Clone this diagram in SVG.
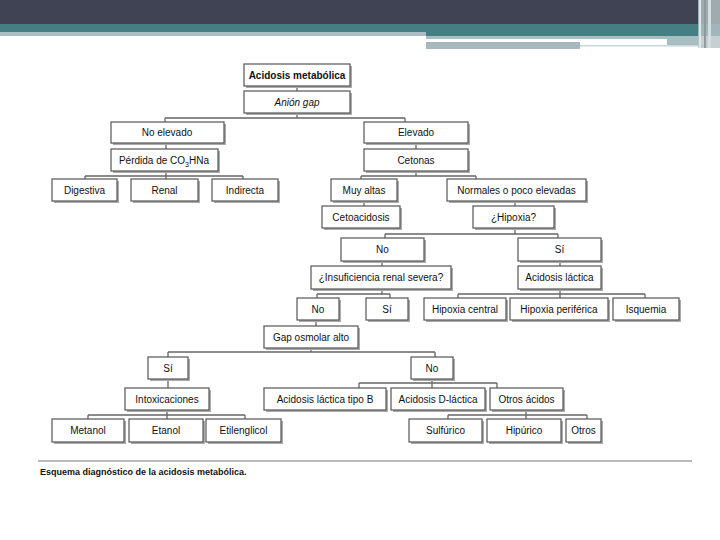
<svg xmlns="http://www.w3.org/2000/svg" width="720" height="540" viewBox="0 0 720 540">
<style>
.b{fill:#fff;stroke:#555;stroke-width:1.2}
.s{fill:#aaa}
.t{font-family:"Liberation Sans",Arial,sans-serif;font-size:10px;fill:#111;text-anchor:middle}
.bold{font-weight:bold}
.c{fill:none;stroke:#666;stroke-width:1.3}
</style>
<rect width="720" height="540" fill="#fff"/>
<g id="header">
<rect x="0" y="0" width="720" height="24" fill="#404354"/>
<rect x="0" y="24" width="720" height="8" fill="#467f83"/>
<rect x="0" y="32" width="426" height="4" fill="#a7bfc2"/>
<rect x="426" y="32" width="294" height="4" fill="#467f83"/>
<rect x="426" y="36" width="241" height="3" fill="#a7bfc2"/>
<rect x="667" y="36" width="33" height="10" fill="#a7bfc2"/>
<rect x="426" y="42" width="154" height="7" fill="#a7b9bc"/>
<rect x="580" y="45" width="127" height="1.5" fill="#c9d6d8"/>
<rect x="698" y="0" width="22" height="48" fill="#b8c4c8" opacity="0.8"/>
<rect x="699" y="0" width="2" height="48" fill="#e0e6e8"/>
<rect x="704" y="0" width="2" height="48" fill="#8d9aa0"/>
<rect x="708" y="0" width="3" height="48" fill="#d6dee0"/>
</g>
<g id="connectors">
<path class="c" d="M297 86V91M297 113V118M165 118H405M165 118V122M405 118V122"/>
<path class="c" d="M166 143V149M166 171V176M85 176H243M85 176V179M166 176V179M243 176V179"/>
<path class="c" d="M416 143V149M416 171V176M361 176H476M361 176V179M476 176V179"/>
<path class="c" d="M364 201V206M515 201V206M515 228V234M385 234H558M385 234V238M558 234V238"/>
<path class="c" d="M382 261V266M382 289V294M317 294H390M317 294V298M390 294V298"/>
<path class="c" d="M560 261V266M560 289V294M458 294H645M458 294V298M560 294V298M645 294V298"/>
<path class="c" d="M316 320V326M311 348V352M168 352H435M168 352V357M435 352V357"/>
<path class="c" d="M168 379V388M167 410V415M88 415H245M88 415V419M167 415V419M245 415V419"/>
<path class="c" d="M432 379V383M359 383H497M359 383V388M432 383V388M497 383V388"/>
<path class="c" d="M526 410V415M448 415H587M448 415V419M526 415V419M587 415V419"/>
</g>
<g id="n1"><rect class="s" x="246" y="66" width="106" height="22"/><rect class="b" x="244" y="64" width="106" height="22"/><text class="t bold" x="297" y="78.5">Acidosis metabólica</text></g>
<g id="n2"><rect class="s" x="246" y="93" width="106" height="22"/><rect class="b" x="244" y="91" width="106" height="22"/><text class="t" x="297" y="105.5" font-style="italic">Anión gap</text></g>
<g id="n3"><rect class="s" x="113" y="124" width="113" height="21"/><rect class="b" x="111" y="122" width="113" height="21"/><text class="t" x="167" y="136">No elevado</text></g>
<g id="n4"><rect class="s" x="366" y="124" width="104" height="21"/><rect class="b" x="364" y="122" width="104" height="21"/><text class="t" x="416" y="136">Elevado</text></g>
<g id="n5"><rect class="s" x="113" y="151" width="107" height="22"/><rect class="b" x="111" y="149" width="107" height="22"/><text class="t" x="164" y="163.5">Pérdida de CO<tspan font-size="7" dy="3">3</tspan><tspan dy="-3">HNa</tspan></text></g>
<g id="n6"><rect class="s" x="366" y="151" width="104" height="22"/><rect class="b" x="364" y="149" width="104" height="22"/><text class="t" x="416" y="163.5">Cetonas</text></g>
<g id="n7"><rect class="s" x="54" y="181" width="65" height="22"/><rect class="b" x="52" y="179" width="65" height="22"/><text class="t" x="84.5" y="193.5">Digestiva</text></g>
<g id="n8"><rect class="s" x="133" y="181" width="67" height="22"/><rect class="b" x="131" y="179" width="67" height="22"/><text class="t" x="164.5" y="193.5">Renal</text></g>
<g id="n9"><rect class="s" x="214" y="181" width="66" height="22"/><rect class="b" x="212" y="179" width="66" height="22"/><text class="t" x="245" y="193.5">Indirecta</text></g>
<g id="n10"><rect class="s" x="333" y="181" width="66" height="22"/><rect class="b" x="331" y="179" width="66" height="22"/><text class="t" x="364" y="193.5">Muy altas</text></g>
<g id="n11"><rect class="s" x="449" y="181" width="139" height="22"/><rect class="b" x="447" y="179" width="139" height="22"/><text class="t" x="516.5" y="193.5">Normales o poco elevadas</text></g>
<g id="n12"><rect class="s" x="324" y="208" width="78" height="22"/><rect class="b" x="322" y="206" width="78" height="22"/><text class="t" x="361" y="220.5">Cetoacidosis</text></g>
<g id="n13"><rect class="s" x="475" y="208" width="81" height="22"/><rect class="b" x="473" y="206" width="81" height="22"/><text class="t" x="513.5" y="220.5">¿Hipoxia?</text></g>
<g id="n14"><rect class="s" x="343" y="240" width="83" height="23"/><rect class="b" x="341" y="238" width="83" height="23"/><text class="t" x="382.5" y="253">No</text></g>
<g id="n15"><rect class="s" x="520" y="240" width="83" height="23"/><rect class="b" x="518" y="238" width="83" height="23"/><text class="t" x="559.5" y="253">Sí</text></g>
<g id="n16"><rect class="s" x="313" y="268" width="140" height="23"/><rect class="b" x="311" y="266" width="140" height="23"/><text class="t" x="381" y="281">¿Insuficiencia renal severa?</text></g>
<g id="n17"><rect class="s" x="520" y="268" width="83" height="23"/><rect class="b" x="518" y="266" width="83" height="23"/><text class="t" x="559.5" y="281">Acidosis láctica</text></g>
<g id="n18"><rect class="s" x="299" y="300" width="42" height="22"/><rect class="b" x="297" y="298" width="42" height="22"/><text class="t" x="318" y="312.5">No</text></g>
<g id="n19"><rect class="s" x="368" y="300" width="42" height="22"/><rect class="b" x="366" y="298" width="42" height="22"/><text class="t" x="387" y="312.5">Sí</text></g>
<g id="n20"><rect class="s" x="426" y="300" width="82" height="22"/><rect class="b" x="424" y="298" width="82" height="22"/><text class="t" x="465" y="312.5">Hipoxia central</text></g>
<g id="n21"><rect class="s" x="512" y="300" width="98" height="22"/><rect class="b" x="510" y="298" width="98" height="22"/><text class="t" x="559" y="312.5">Hipoxia periférica</text></g>
<g id="n22"><rect class="s" x="615" y="300" width="66" height="22"/><rect class="b" x="613" y="298" width="66" height="22"/><text class="t" x="646" y="312.5">Isquemia</text></g>
<g id="n23"><rect class="s" x="266" y="328" width="94" height="22"/><rect class="b" x="264" y="326" width="94" height="22"/><text class="t" x="311" y="340.5">Gap osmolar alto</text></g>
<g id="n24"><rect class="s" x="150" y="359" width="40" height="22"/><rect class="b" x="148" y="357" width="40" height="22"/><text class="t" x="168" y="371.5">Sí</text></g>
<g id="n25"><rect class="s" x="413" y="359" width="42" height="22"/><rect class="b" x="411" y="357" width="42" height="22"/><text class="t" x="432" y="371.5">No</text></g>
<g id="n26"><rect class="s" x="127" y="390" width="84" height="22"/><rect class="b" x="125" y="388" width="84" height="22"/><text class="t" x="167" y="402.5">Intoxicaciones</text></g>
<g id="n27"><rect class="s" x="266" y="390" width="122" height="22"/><rect class="b" x="264" y="388" width="122" height="22"/><text class="t" x="325" y="402.5">Acidosis láctica tipo B</text></g>
<g id="n28"><rect class="s" x="393" y="390" width="94" height="22"/><rect class="b" x="391" y="388" width="94" height="22"/><text class="t" x="438" y="402.5">Acidosis D-láctica</text></g>
<g id="n29"><rect class="s" x="492" y="390" width="73" height="22"/><rect class="b" x="490" y="388" width="73" height="22"/><text class="t" x="526.5" y="402.5">Otros ácidos</text></g>
<g id="n30"><rect class="s" x="54" y="421" width="72" height="23"/><rect class="b" x="52" y="419" width="72" height="23"/><text class="t" x="88" y="434">Metanol</text></g>
<g id="n31"><rect class="s" x="131" y="421" width="74" height="23"/><rect class="b" x="129" y="419" width="74" height="23"/><text class="t" x="166" y="434">Etanol</text></g>
<g id="n32"><rect class="s" x="208" y="421" width="75" height="23"/><rect class="b" x="206" y="419" width="75" height="23"/><text class="t" x="243.5" y="434">Etilenglicol</text></g>
<g id="n33"><rect class="s" x="411" y="421" width="73" height="23"/><rect class="b" x="409" y="419" width="73" height="23"/><text class="t" x="445.5" y="434">Sulfúrico</text></g>
<g id="n34"><rect class="s" x="489" y="421" width="74" height="23"/><rect class="b" x="487" y="419" width="74" height="23"/><text class="t" x="524" y="434">Hipúrico</text></g>
<g id="n35"><rect class="s" x="568" y="421" width="35" height="23"/><rect class="b" x="566" y="419" width="35" height="23"/><text class="t" x="583.5" y="434">Otros</text></g>
<g id="caption">
<line x1="38" y1="461" x2="692" y2="461" stroke="#777" stroke-width="1.2"/>
<text x="40" y="475" font-family="Liberation Sans, Arial, sans-serif" font-size="9" font-weight="bold" fill="#111">Esquema diagnóstico de la acidosis metabólica.</text>
</g>
</svg>
